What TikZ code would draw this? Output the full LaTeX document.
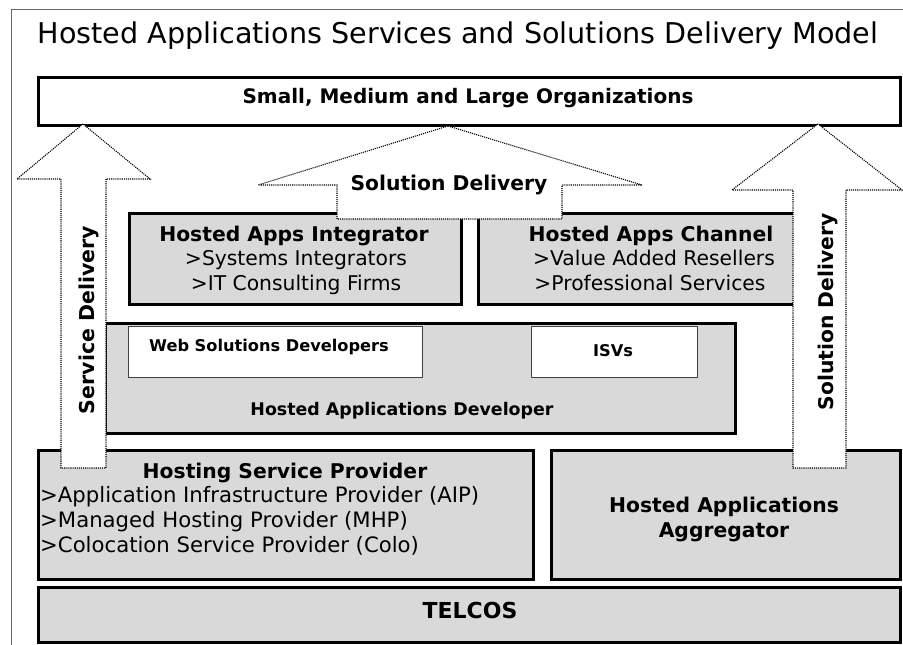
\documentclass[tikz,border=0pt]{standalone}
\usepackage{fontspec}
\setmainfont{DejaVu Sans}
\begin{document}
\begin{tikzpicture}[x=1pt,y=-1pt,
  box/.style={draw=black,line width=2.6pt,fill=boxgray,anchor=north west,inner sep=0pt},
  wbox/.style={draw=black!75,line width=1.4pt,fill=white,anchor=north west,inner sep=0pt},
  darrow/.style={draw=black,line width=1.1pt,densely dotted,fill=white},
  hd/.style={font=\fontsize{20.3}{22}\selectfont\bfseries,inner sep=0pt,anchor=base},
  it/.style={font=\fontsize{20.3}{22}\selectfont,inner sep=0pt,anchor=base},
  hit/.style={font=\fontsize{21.2}{22}\selectfont,inner sep=0pt,anchor=base west},
  sm/.style={font=\fontsize{16.2}{18}\selectfont\bfseries,inner sep=0pt,anchor=base}]
\definecolor{boxgray}{RGB}{217,217,217}
\useasboundingbox (0,0) rectangle (903,645);
\draw[black!60,line width=1pt] (11,645) -- (11,9) -- (903,9);
\node[inner sep=0pt,anchor=base,font=\fontsize{28.6}{30}\selectfont] (title) at (458,43) {Hosted Applications Services and Solutions Delivery Model};
% boxes
\node[box,fill=white,minimum width=862,minimum height=48] (org) at (37,76) {};
\node[hd,font=\fontsize{20}{22}\selectfont\bfseries] (orgt) at (468,103) {Small, Medium and Large Organizations};
\node[box,minimum width=332,minimum height=91] (integ) at (128,212) {};
\node[box,minimum width=318,minimum height=91] (chan) at (477,212) {};
\node[box,minimum width=630,minimum height=110] (dev) at (104,322) {};
\node[wbox,minimum width=294,minimum height=51] (web) at (128,326) {};
\node[wbox,minimum width=166,minimum height=51] (isv) at (531,326) {};
\node[box,minimum width=495,minimum height=129] (hsp) at (37,449) {};
\node[box,minimum width=349,minimum height=129] (agg) at (550,449) {};
\node[box,minimum width=862,minimum height=55] (tel) at (37,586) {};
% arrows
\draw[darrow] (83,124) coordinate (ltip) -- (17,179) -- (61,179) -- (61,468) -- (106,468) -- (106,179) -- (150,179) -- cycle;
\draw[darrow] (818,124) coordinate (rtip) -- (732,190) -- (793,190) -- (793,468) -- (846,468) -- (846,190) -- (902,190) -- cycle;
\draw[darrow] (448,126) coordinate (mtip) -- (258,185) -- (337,185) -- (337,219) -- (562,219) -- (562,185) -- (642,185) -- cycle;
% texts
\node[hd] (integt) at (294,241) {Hosted Apps Integrator};
\node[it] (intega) at (296,265) {>Systems Integrators};
\node[it] (integb) at (296,290) {>IT Consulting Firms};
\node[hd] (chant) at (651,241) {Hosted Apps Channel};
\node[it] (chana) at (654,265) {>Value Added Resellers};
\node[it] (chanb) at (650,290) {>Professional Services};
\node[sm] (webt) at (269,351) {Web Solutions Developers};
\node[sm] (isvt) at (613,356) {ISVs};
\node[sm,font=\fontsize{17.4}{19}\selectfont\bfseries] (devt) at (402,415) {Hosted Applications Developer};
\node[hd] (hspt) at (285,478) {Hosting Service Provider};
\node[hit] (hspa) at (40,502) {>Application Infrastructure Provider (AIP)};
\node[hit] (hspb) at (40,527) {>Managed Hosting Provider (MHP)};
\node[hit] (hspc) at (40,552) {>Colocation Service Provider (Colo)};
\node[hd] (agga) at (724,512) {Hosted Applications};
\node[hd] (aggb) at (724,537) {Aggregator};
\node[hd,font=\fontsize{22}{24}\selectfont\bfseries] (telt) at (470,618) {TELCOS};
\node[hd,font=\fontsize{20.5}{22}\selectfont\bfseries,anchor=center,rotate=90] (sdl) at (89,320) {Service Delivery};
\node[hd,anchor=center,rotate=90] (sdr) at (828,312) {Solution Delivery};
\node[hd,anchor=center] (sdm) at (449,185) {Solution Delivery};
\end{tikzpicture}
\end{document}
